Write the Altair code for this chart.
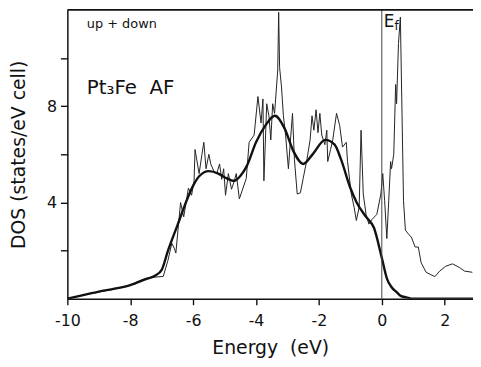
import altair as alt
import pandas as pd

# Thin (raw) DOS curve, up + down
raw_E = [-10.0, -9.5, -9.0, -8.5, -8.0, -7.7, -7.5, -7.2, -6.95, -6.8, -6.68, -6.6, -6.55, -6.4, -6.3,
         -6.15, -6.05, -5.97, -5.94, -5.81, -5.72, -5.66, -5.59, -5.5, -5.44, -5.34, -5.25, -5.16,
         -5.09, -5.03, -4.97, -4.88, -4.78, -4.69, -4.63, -4.53, -4.31, -4.22, -4.06, -3.94, -3.84,
         -3.78, -3.75, -3.66, -3.59, -3.53, -3.47, -3.41, -3.31, -3.28, -3.25, -3.19, -3.13, -3.06,
         -2.97, -2.91, -2.84, -2.78, -2.69, -2.59, -2.5, -2.38, -2.28, -2.22, -2.16, -2.09, -2.03,
         -1.97, -1.91, -1.81, -1.75, -1.72, -1.63, -1.56, -1.44, -1.34, -1.25, -1.13, -1.09, -0.97,
         -0.88, -0.81, -0.72, -0.66, -0.59, -0.5, -0.41, -0.31, -0.16, -0.03, 0.03, 0.09, 0.16, 0.22,
         0.28, 0.31, 0.38, 0.44, 0.47, 0.53, 0.59, 0.69, 0.75, 0.84, 0.94, 1.06, 1.16, 1.25, 1.41,
         1.56, 1.69, 1.84, 2.03, 2.25, 2.47, 2.63, 2.88]
raw_D = [0.0, 0.15, 0.28, 0.4, 0.57, 0.75, 0.85, 0.9, 0.93, 1.6, 2.3, 2.1, 1.9, 4.0, 3.4,
         4.6, 4.3, 4.9, 6.2, 5.2, 6.0, 6.5, 5.4, 6.0, 5.6, 5.3, 5.2, 5.6,
         4.96, 5.4, 4.3, 5.2, 4.55, 4.9, 5.2, 4.15, 5.0, 6.5, 6.8, 8.4, 7.3,
         8.3, 4.9, 8.1, 7.6, 6.6, 8.1, 7.7, 9.5, 11.9, 9.6, 8.8, 7.6, 6.8,
         5.4, 6.5, 7.7, 5.8, 4.35, 4.4, 5.0, 5.8, 6.6, 7.6, 7.0, 7.85, 6.9,
         7.7, 6.8, 6.4, 7.0, 5.7, 6.2, 6.6, 7.7, 7.2, 6.3, 6.5, 5.7, 4.35,
         3.8, 3.25, 3.8, 7.0, 4.35, 3.5, 3.1, 3.3, 3.5, 4.35, 5.2, 4.07, 2.5, 4.07,
         5.7, 5.4, 6.0, 8.9, 8.1, 10.6, 11.7, 4.07, 2.85, 2.7, 2.56, 2.15, 2.15, 1.5, 1.1,
         1.0, 0.92, 1.15, 1.35, 1.45, 1.3, 1.15, 1.1]

# Thick (broadened) DOS curve
smooth_E = [-10.0, -9.5, -9.0, -8.5, -8.0, -7.5, -7.2, -7.0, -6.8, -6.5, -6.2, -6.0, -5.8, -5.5,
            -5.2, -5.0, -4.7, -4.5, -4.3, -4.0, -3.7, -3.4, -3.1, -2.8, -2.5, -2.2, -1.8, -1.5,
            -1.3, -1.0, -0.8, -0.5, -0.25, 0.0, 0.16, 0.3, 0.47, 0.6, 0.78, 1.0, 2.9]
smooth_D = [0.0, 0.15, 0.3, 0.42, 0.57, 0.82, 0.97, 1.2, 2.0, 3.05, 4.1, 4.7, 5.1, 5.3,
            5.2, 5.05, 4.9, 5.1, 5.5, 6.5, 7.2, 7.6, 7.1, 6.1, 5.6, 6.0, 6.6, 6.4,
            5.8, 4.6, 4.0, 3.4, 2.95, 1.7, 0.85, 0.5, 0.28, 0.12, 0.06, 0.0, 0.0]

x_ticks = [-10, -9.5, -9, -8.5, -8, -7.5, -7, -6.5, -6, -5.5, -5, -4.5, -4, -3.5, -3, -2.5,
           -2, -1.5, -1, -0.5, 0, 0.5, 1, 1.5, 2, 2.5]
y_ticks = [2, 4, 6, 8, 10]

raw = pd.DataFrame({"E": raw_E, "DOS": raw_D})
smooth = pd.DataFrame({"E": smooth_E, "DOS": smooth_D})

FONT = "DejaVu Sans"
NB = "\u00a0"
xs = alt.Scale(domain=[-10, 2.9], nice=False, zero=False)
ys = alt.Scale(domain=[0, 12], nice=False)

x_axis = alt.Axis(values=x_ticks,
                  labelExpr="datum.value % 2 == 0 ? replace(format(datum.value, 'd'), '\u2212', '-') : ''",
                  title="Energy" + NB + NB + "(eV)", grid=False, tickSize=6, labelPadding=8,
                  titlePadding=10, labelFontSize=16, titleFontSize=19, labelFlush=False,
                  labelOverlap=False, domainWidth=1.5, tickWidth=1.4)
y_axis = alt.Axis(values=y_ticks, labelExpr="datum.value % 4 == 0 ? datum.label : ''",
                  title="DOS (states/eV cell)", grid=False, tickSize=7, labelPadding=4,
                  titlePadding=18, labelFontSize=16, titleFontSize=19, labelFlush=False,
                  labelOverlap=False, domainWidth=1.5, tickWidth=1.4)

raw_line = alt.Chart(raw).mark_line(color="#222", strokeWidth=1.0, clip=True).encode(
    x=alt.X("E:Q", scale=xs, axis=x_axis),
    y=alt.Y("DOS:Q", scale=ys, axis=y_axis),
)
smooth_line = alt.Chart(smooth).mark_line(color="#111", strokeWidth=2.4, interpolate="monotone",
                                          clip=True).encode(
    x=alt.X("E:Q", scale=xs), y=alt.Y("DOS:Q", scale=ys))

ef_rule = alt.Chart().mark_rule(color="#444", strokeWidth=1).encode(x=alt.datum(0, scale=xs))
top_rule = alt.Chart().mark_rule(color="#111", strokeWidth=2).encode(
    x=alt.datum(-10), x2=alt.datum(2.9), y=alt.datum(12))

t_updown = alt.Chart().mark_text(text="up + down", font=FONT, fontSize=13, align="left",
                                 baseline="alphabetic", color="#111").encode(
    x=alt.datum(-9.38), y=alt.datum(11.26))
t_title = alt.Chart().mark_text(text="Pt\u2083Fe" + NB + NB + "AF", font=FONT, fontSize=20,
                                align="left", baseline="alphabetic", color="#111").encode(
    x=alt.datum(-9.38), y=alt.datum(8.5))
t_E = alt.Chart().mark_text(text="E", font=FONT, fontSize=17, align="left",
                            baseline="alphabetic", color="#111").encode(
    x=alt.datum(0.06), y=alt.datum(11.3))
t_f = alt.Chart().mark_text(text="f", font=FONT, fontSize=12, align="left",
                            baseline="alphabetic", color="#111").encode(
    x=alt.datum(0.4), y=alt.datum(11.15))

chart = alt.layer(raw_line, smooth_line, ef_rule, top_rule, t_updown, t_title, t_E, t_f).properties(
    width=410, height=292,
    autosize=alt.AutoSizeParams(type="none"),
    padding={"left": 60, "top": 0, "right": 0, "bottom": 60},
).configure_view(stroke=None).configure_axis(
    labelFont=FONT, titleFont=FONT, labelColor="#111", titleColor="#111",
    domainColor="#111", tickColor="#111", titleFontWeight="normal"
)

chart.save("out.html", embed_options={"renderer": "svg", "actions": False})
